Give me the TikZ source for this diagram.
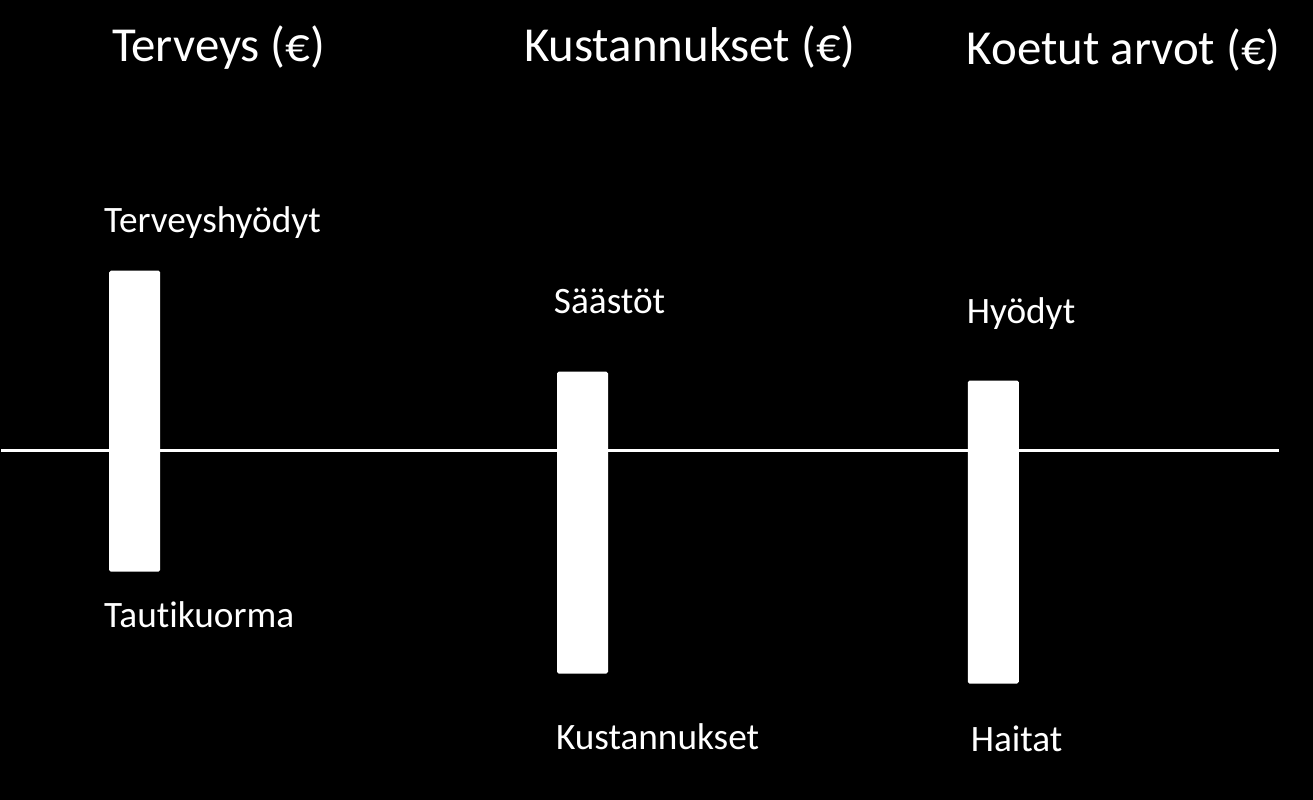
\documentclass[tikz,border=0pt]{standalone}
\usepackage{fontspec}
\setmainfont[Ligatures=NoCommon]{Carlito}
\usepackage{tikz}
\usetikzlibrary{positioning}
\usepackage{xcolor}

\begin{document}
\begin{tikzpicture}[
x=0.01cm,y=-0.01cm,
title/.style={text=white,inner sep=0pt,anchor=base west,font=\fontsize{13.9}{16}\selectfont},
label/.style={text=white,inner sep=0pt,anchor=base west,font=\fontsize{10.6}{12}\selectfont},
bar/.style={rectangle,rounded corners=0.5pt,fill=white,draw=none,inner sep=0pt,
minimum width=0.51cm,anchor=north west},
axis/.style={draw=white,line width=0.85pt}
]
\fill[black] (0,0) rectangle (1313,800);
\node[title] (t1) at (111,62) {Terveys (€)};
\node[title] (t2) at (523,62) {Kustannukset (€)};
\node[title] (t3) at (966,65) {Koetut arvot (€)};
\coordinate (l) at (1,450.5);
\coordinate (r) at (1279,450.5);
\draw[axis] (l) -- (r);
\node[bar,minimum height=3.01cm] (b1) at (108,270) {};
\node[bar,minimum height=3.02cm] (b2) at (556,371) {};
\node[bar,minimum height=3.03cm] (b3) at (967,380) {};
\node[label] (up1) at (103,233) {Terveyshyödyt};
\node[label] (up2) at (553,314) {Säästöt};
\node[label] (up3) at (966,324) {Hyödyt};
\node[label] (dn1) at (103,628) {Tautikuorma};
\node[label] (dn2) at (555,750) {Kustannukset};
\node[label] (dn3) at (970,752) {Haitat};
\end{tikzpicture}
\end{document}
